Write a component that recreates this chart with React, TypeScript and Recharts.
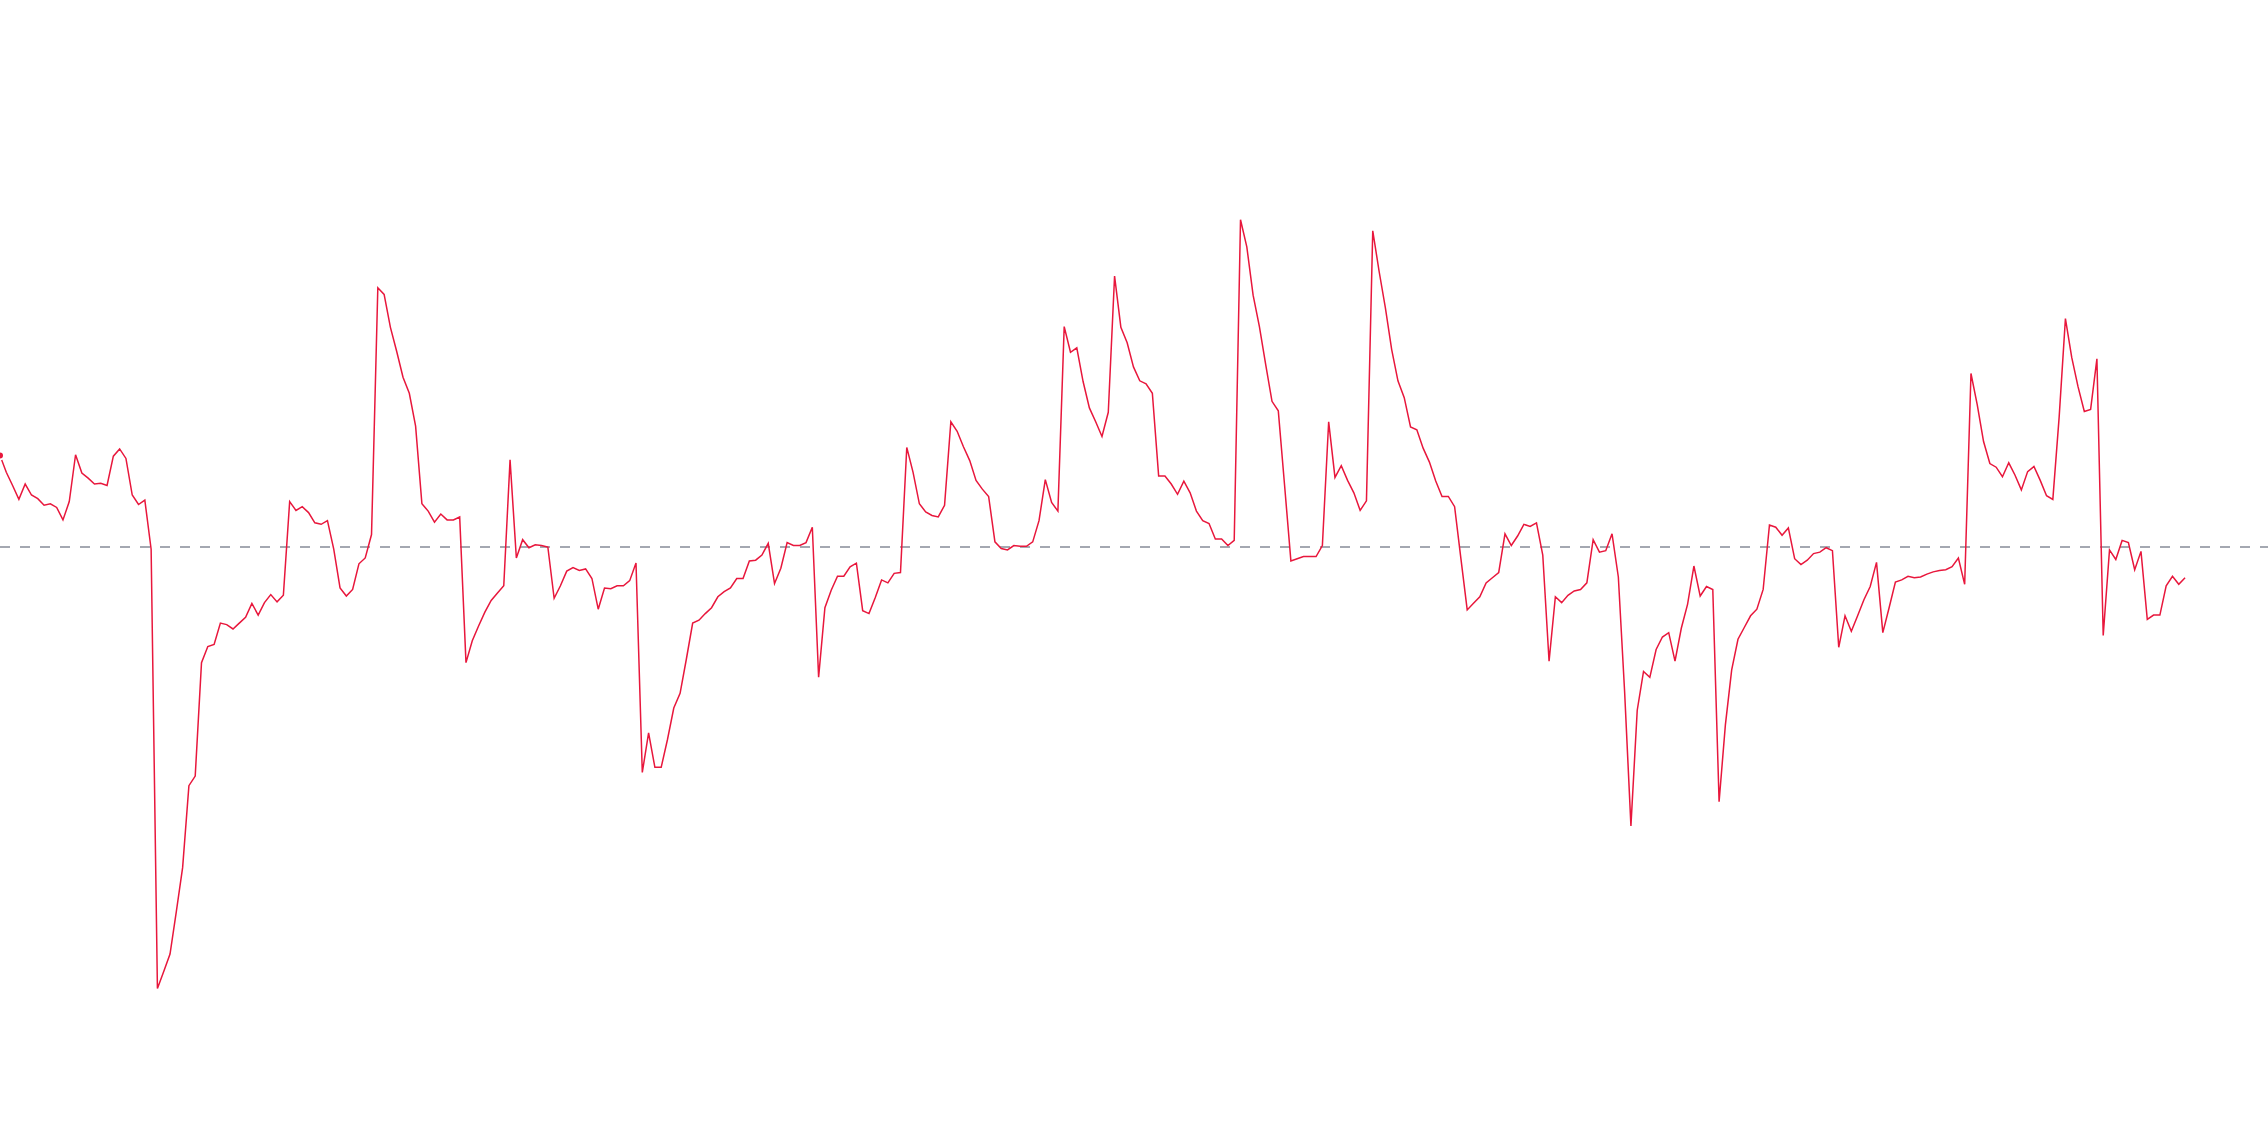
import React from "react";
import { LineChart, Line, XAxis, YAxis, ReferenceLine } from "recharts";

// Series values
const values: number[] = [
  12.5, 10.2, 8.4, 6.5, 8.6, 7.1, 6.6, 5.7, 5.9, 5.4, 3.7, 6.2, 12.6, 10.1, 9.4, 8.6, 8.7, 8.4, 12.4, 13.4,
  12.1, 7.1, 5.8, 6.4, -0.3, -60.3, -58.0, -55.6, -49.8, -43.8,
  -32.6, -31.3, -15.8, -13.6, -13.3, -10.4, -10.6, -11.2, -10.4, -9.6, -7.7, -9.3, -7.6, -6.5, -7.5,
  -6.6, 6.2, 5.0, 5.5, 4.7, 3.3, 3.1, 3.6, -0.3, -5.6, -6.7, -5.8, -2.3, -1.5, 1.7,
  35.4, 34.5, 30.0, 26.7, 23.2, 21.0, 16.5, 5.9, 4.9, 3.4, 4.5, 3.7, 3.7, 4.1, -15.8,
  -12.8, -10.8, -8.9, -7.3, -6.3, -5.3, 11.9, -1.5, 1.0, -0.1, 0.3, 0.2, 0.0, -7.0, -5.3,
  -3.3, -2.8, -3.2, -3.0, -4.3, -8.5, -5.6, -5.7, -5.3, -5.3, -4.6, -2.2, -30.8, -25.4, -30.1,
  -30.1, -26.3, -22.0, -20.0, -15.3, -10.4, -10.0, -9.1, -8.3, -6.8, -6.1, -5.6, -4.3, -4.3, -1.9, -1.8,
  -1.1, 0.5, -5.0, -2.9, 0.6, 0.2, 0.2, 0.6, 2.7, -17.8, -8.3, -5.9, -4.0, -4.0, -2.7,
  -2.2, -8.7, -9.1, -6.9, -4.5, -4.9, -3.6, -3.5, 13.6, 10.2, 5.9, 4.8, 4.3, 4.1, 5.7,
  17.1, 15.8, 13.7, 11.8, 9.1, 7.9, 6.9, 0.7, -0.2, -0.4, 0.2, 0.1, 0.1, 0.7, 3.6,
  9.2, 6.1, 4.9, 30.1, 26.6, 27.2, 22.6, 19.0, 17.1, 15.1, 18.4, 37.0, 30.0, 27.9, 24.6,
  22.7, 22.3, 21.0, 9.7, 9.7, 8.6, 7.2, 9.0, 7.4, 4.9, 3.6, 3.2, 1.1, 1.1, 0.2,
  0.9, 44.7, 41.0, 34.4, 30.1, 24.9, 19.9, 18.6, 8.4, -1.9, -1.6, -1.3, -1.3, -1.3, 0.2,
  17.1, 9.5, 11.1, 9.1, 7.4, 5.0, 6.3, 43.2, 37.7, 32.7, 27.0, 22.7, 20.4, 16.4, 16.0,
  13.5, 11.6, 9.0, 6.9, 6.9, 5.5, -1.6, -8.6, -7.7, -6.8, -4.9, -4.2, -3.5, 1.8, 0.2,
  1.5, 3.1, 2.8, 3.3, -1.1, -15.6, -6.8, -7.6, -6.6, -6.0, -5.8, -4.9, 1.0, -0.7, -0.5,
  1.8, -4.1, -19.8, -38.1, -22.3, -17.0, -17.8, -14.0, -12.3, -11.7, -15.6, -11.1, -7.8, -2.6, -6.7, -5.4,
  -5.8, -34.8, -24.3, -16.8, -12.6, -11.0, -9.4, -8.5, -5.8, 3.0, 2.7, 1.6, 2.6, -1.6, -2.4,
  -1.8, -0.9, -0.7, -0.1, -0.5, -13.7, -9.4, -11.5, -9.4, -7.2, -5.4, -2.1, -11.7, -8.3, -4.8,
  -4.5, -4.0, -4.2, -4.1, -3.7, -3.4, -3.2, -3.1, -2.7, -1.5, -5.1, 23.7, 19.4, 14.4, 11.4,
  10.9, 9.6, 11.5, 9.8, 7.8, 10.3, 11.0, 9.1, 7.0, 6.5, 17.7, 31.2, 25.9, 21.9, 18.5,
  18.8, 25.7, -12.1, -0.4, -1.7, 0.9, 0.6, -3.1, -0.6, -9.9, -9.3, -9.3, -5.3, -4.0, -5.1, -4.2,
];

const baseline = 0;
const xDomain: [number, number] = [0, 360.17];
const yDomain: [number, number] = [-82.1, 74.72];

const data = values.map((v, i) => ({ t: i, v }));

export default function App() {
  return (
    <div style={{ position: "absolute", left: 0, top: 0, width: 2268, height: 1148, background: "#ffffff" }}>
      <LineChart width={2268} height={1148} data={data} margin={{ top: 0, right: 0, bottom: 0, left: 0 }}>
        <XAxis dataKey="t" type="number" domain={xDomain} allowDataOverflow hide />
        <YAxis type="number" domain={yDomain} allowDataOverflow hide />
        <ReferenceLine y={baseline} stroke="#868c98" strokeWidth={1.5} strokeDasharray="10 10" />
        <Line
          type="linear"
          dataKey="v"
          stroke="#e8173c"
          strokeWidth={1.5}
          dot={false}
          isAnimationActive={false}
        />
      </LineChart>
    </div>
  );
}
